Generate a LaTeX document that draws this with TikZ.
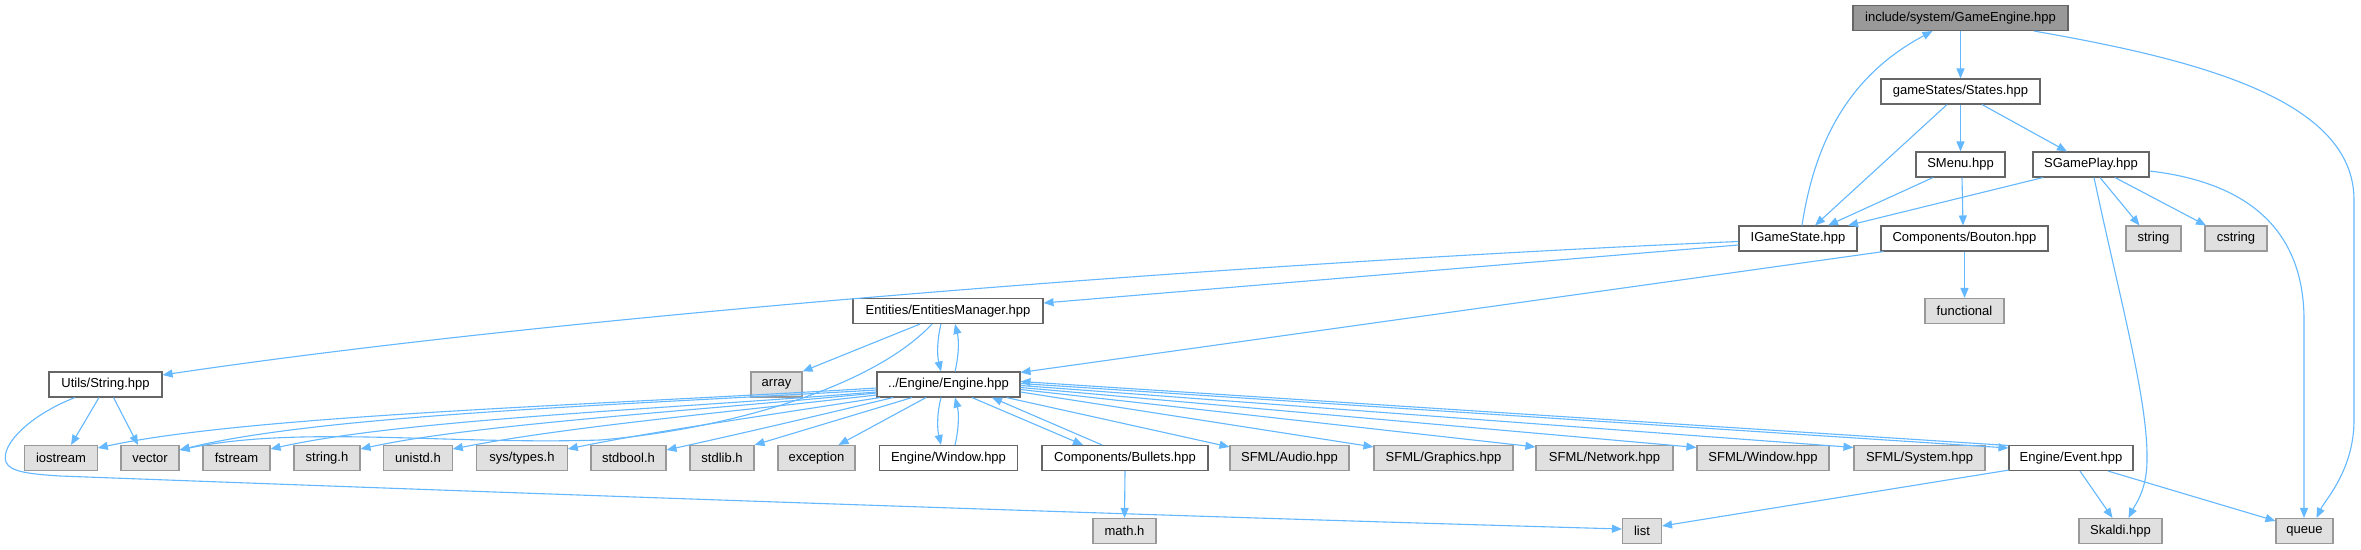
\documentclass[tikz,border=0pt]{standalone}
\usepackage{fontspec}
\setmainfont{Liberation Sans}
\usetikzlibrary{arrows.meta}
\definecolor{edgec}{HTML}{63B8FF}
\definecolor{rootfill}{HTML}{999999}
\definecolor{darkline}{HTML}{666666}
\definecolor{extfill}{HTML}{E0E0E0}
\definecolor{extline}{HTML}{999999}
\begin{document}
\begin{tikzpicture}[x=1pt,y=-1pt,
  basebox/.style={rectangle, line width=1.1pt, minimum height=25pt, inner sep=0pt, font=\fontsize{13}{15}\selectfont},
  rootbox/.style={basebox, draw=darkline, fill=rootfill},
  filebox/.style={basebox, draw=darkline, fill=white},
  extbox/.style={basebox, draw=extline, fill=extfill},
  edge/.style={draw=edgec, line width=1.1pt, -{Triangle[length=10pt,width=8pt]}}]
\useasboundingbox (0,0) rectangle (2361,549);
\fill[white] (0,0) rectangle (2361,549);
% nodes
\node[rootbox, minimum width=215pt] (ge) at (1960.5,18) {include/system/GameEngine.hpp};
\node[filebox, minimum width=159pt] (st) at (1960.5,91.5) {gameStates/States.hpp};
\node[filebox, minimum width=89pt] (sm) at (1960.5,164.5) {SMenu.hpp};
\node[filebox, minimum width=116pt] (sg) at (2091,164.5) {SGamePlay.hpp};
\node[filebox, minimum width=118pt] (ig) at (1798,238.5) {IGameState.hpp};
\node[filebox, minimum width=167pt] (bo) at (1964.5,238.5) {Components/Bouton.hpp};
\node[extbox, minimum width=55pt] (str) at (2153.5,238.5) {string};
\node[extbox, minimum width=62pt] (cstr) at (2236,238.5) {cstring};
\node[extbox, minimum width=79pt] (fun) at (1964.5,311) {functional};
\node[filebox, minimum width=190pt] (em) at (948,311) {Entities/EntitiesManager.hpp};
\node[filebox, minimum width=113pt] (us) at (105.5,384.5) {Utils/String.hpp};
\node[extbox, minimum width=51pt] (arr) at (776.5,384.5) {array};
\node[filebox, minimum width=143pt] (en) at (948.5,384.5) {../Engine/Engine.hpp};
\node[extbox, minimum width=72.5pt] (ios) at (61,458) {iostream};
\node[extbox, minimum width=58pt] (vec) at (150,458) {vector};
\node[extbox, minimum width=67pt] (fst) at (236.5,458) {fstream};
\node[extbox, minimum width=66pt] (sth) at (327,458) {string.h};
\node[extbox, minimum width=68.5pt] (uni) at (418,458) {unistd.h};
\node[extbox, minimum width=90.5pt] (sys) at (522,458) {sys/types.h};
\node[extbox, minimum width=75pt] (sbo) at (628.5,458) {stdbool.h};
\node[extbox, minimum width=64pt] (sli) at (722,458) {stdlib.h};
\node[extbox, minimum width=77pt] (exc) at (816.5,458) {exception};
\node[filebox, minimum width=137.5pt] (ew) at (948.5,458) {Engine/Window.hpp};
\node[filebox, minimum width=166pt] (bu) at (1125,458) {Components/Bullets.hpp};
\node[extbox, minimum width=119pt] (au) at (1289.5,458) {SFML/Audio.hpp};
\node[extbox, minimum width=139pt] (gr) at (1443.5,458) {SFML/Graphics.hpp};
\node[extbox, minimum width=137pt] (ne) at (1604.5,458) {SFML/Network.hpp};
\node[extbox, minimum width=132pt] (sw) at (1763,458) {SFML/Window.hpp};
\node[extbox, minimum width=131pt] (sy) at (1919.5,458) {SFML/System.hpp};
\node[filebox, minimum width=124pt] (ev) at (2071,458) {Engine/Event.hpp};
\node[extbox, minimum width=63pt] (ma) at (1124.5,531) {math.h};
\node[extbox, minimum width=39pt] (li) at (1642,531) {list};
\node[extbox, minimum width=83pt] (sk) at (2120.5,531) {Skaldi.hpp};
\node[extbox, minimum width=57pt] (qu) at (2304.5,531) {queue};
% edges from GameEngine
\draw[edge] (ge.south) -- (st.north);
\draw[edge] ([xshift=73.5pt]ge.south) .. controls (2200,60) and (2354,100) .. (2354,200) -- (2354,420) .. controls (2354,470) and (2325,500) .. ([xshift=12pt]qu.north);
% States
\draw[edge] ([xshift=-13.5pt]st.south) -- ([xshift=17pt]ig.north);
\draw[edge] (st.south) -- (sm.north);
\draw[edge] ([xshift=21.5pt]st.south) -- ([xshift=-24pt]sg.north);
% SMenu
\draw[edge] ([xshift=-27.5pt]sm.south) -- ([xshift=30pt]ig.north);
\draw[edge] ([xshift=1.5pt]sm.south) -- ([xshift=-1.5pt]bo.north);
% SGamePlay
\draw[edge] ([xshift=-48pt]sg.south) -- ([xshift=50pt]ig.north);
\draw[edge] ([xshift=9pt]sg.south) -- ([xshift=-14pt]str.north);
\draw[edge] ([xshift=24pt]sg.south) -- ([xshift=-30pt]cstr.north);
\draw[edge] ([xshift=3pt]sg.south) .. controls (2120,300) and (2148,400) .. (2147,460) .. controls (2147,490) and (2135,505) .. ([xshift=8pt]sk.north);
\draw[edge] ([yshift=-6.5pt]sg.east) .. controls (2270,185) and (2304,250) .. (2304,320) -- ([xshift=-0.5pt]qu.north);
% IGameState
\draw[edge] ([xshift=4pt]ig.north) .. controls (1815,140) and (1850,75) .. ([xshift=-28pt]ge.south);
\draw[edge] ([yshift=-6.5pt]ig.west) -- ([yshift=8pt]em.east);
\draw[edge] ([yshift=-3pt]ig.west) .. controls (1300,260) and (600,310) .. ([yshift=9.5pt]us.east);
% Bouton
\draw[edge] (bo.south) -- (fun.north);
\draw[edge] ([xshift=-81pt]bo.south) -- ([yshift=-1pt]en.north east);
% EntitiesManager
\draw[edge] ([xshift=-28pt]em.south) -- (arr.north east);
\draw[edge] ([xshift=-7pt]em.south) .. controls (937,340) and (937,355) .. ([xshift=-7.5pt]en.north);
\draw[edge] ([xshift=6.5pt]en.north) .. controls (959,355) and (959,340) .. ([xshift=7pt]em.south);
\draw[edge] ([xshift=-16pt]em.south) .. controls (870,390) and (720,430) .. (600,440) .. controls (450,445) and (300,425) .. ([yshift=8pt]vec.east);
% Engine to left row
\draw[edge] ([yshift=-3.5pt]en.west) .. controls (600,405) and (250,415) .. ([yshift=10pt]ios.east);
\draw[edge] ([yshift=-5.5pt]en.west) .. controls (620,405) and (320,415) .. ([yshift=8pt]vec.east);
\draw[edge] ([yshift=-7.5pt]en.west) .. controls (650,410) and (400,420) .. ([yshift=9pt]fst.east);
\draw[edge] ([yshift=-8.5pt]en.west) .. controls (680,412) and (470,425) .. ([yshift=9pt]sth.east);
\draw[edge] ([yshift=-10.5pt]en.west) .. controls (700,415) and (560,428) .. ([yshift=9pt]uni.east);
\draw[edge] ([xshift=-68.5pt]en.south) .. controls (750,418) and (650,432) .. ([yshift=9pt]sys.east);
\draw[edge] ([xshift=-55.5pt]en.south) .. controls (800,420) and (730,436) .. ([yshift=8pt]sbo.east);
\draw[edge] ([xshift=-36.5pt]en.south) -- (sli.north east);
\draw[edge] ([xshift=-22.5pt]en.south) -- ([xshift=22pt]exc.north);
% Engine and Window / Bullets
\draw[edge] ([xshift=-7.5pt]en.south) .. controls (937,413) and (937,428) .. ([xshift=-7.5pt]ew.north);
\draw[edge] ([xshift=6.5pt]ew.north) .. controls (959,428) and (959,413) .. ([xshift=6.5pt]en.south);
\draw[edge] ([xshift=23.5pt]en.south) -- ([xshift=-42pt]bu.north);
\draw[edge] ([xshift=-23pt]bu.north) -- ([xshift=43.5pt]en.south);
\draw[edge] (bu.south) -- (ma.north);
% Engine to right row
\draw[edge] ([xshift=58pt]en.south) -- ([yshift=-2pt]au.north west);
\draw[edge] ([yshift=-7.5pt]en.east) -- ([yshift=-2pt]gr.north west);
\draw[edge] ([yshift=-5pt]en.east) -- ([yshift=-2pt]ne.north west);
\draw[edge] ([yshift=-3pt]en.east) -- ([yshift=-2.5pt]sw.north west);
\draw[edge] ([yshift=-1pt]en.east) -- ([yshift=-2.5pt]sy.north west);
\draw[edge] ([yshift=1pt]en.east) -- ([yshift=10pt]ev.west);
\draw[edge] ([yshift=12.5pt]ev.west) -- ([yshift=3pt]en.east);
% Event
\draw[edge] ([xshift=-62pt,yshift=1pt]ev.south) -- ([yshift=5pt]li.east);
\draw[edge] ([xshift=9pt]ev.south) -- ([xshift=-8pt]sk.north);
\draw[edge] ([xshift=37pt]ev.south) -- ([yshift=-3pt]qu.north west);
% Utils/String
\draw[edge] ([xshift=-6.5pt]us.south) -- ([xshift=10pt]ios.north);
\draw[edge] ([xshift=8pt]us.south) -- ([xshift=-12pt]vec.north);
\draw[edge] ([xshift=-30.5pt]us.south) .. controls (30,415) and (0,445) .. (6,462) .. controls (10,472) and (30,474) .. (60,476) .. controls (700,500) and (1200,517) .. ([yshift=2pt]li.west);
\end{tikzpicture}
\end{document}
